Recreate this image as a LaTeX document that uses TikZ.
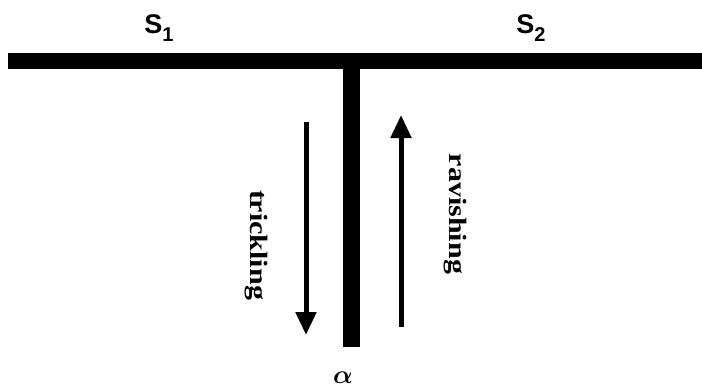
\documentclass[tikz,border=0pt]{standalone}
\usepackage{fontspec}
\setmainfont{Liberation Serif}
\setsansfont{Liberation Sans}
\usetikzlibrary{arrows.meta}

\newcommand{\sublbl}[2]{#1\raisebox{-8pt}{\fontsize{20}{20}\selectfont #2}}

\begin{document}
\begin{tikzpicture}[
    x=1pt, y=-1pt,
    bar/.style={rectangle, fill=black, draw=none, inner sep=0pt},
    flow/.style={-{Triangle[length=23pt, width=20pt]}, line width=5pt},
    word/.style={font=\fontsize{25}{25}\selectfont\bfseries, rotate=-90, xscale=1.2, inner sep=0pt},
    site/.style={font=\fontsize{27}{27}\selectfont\sffamily\bfseries, inner sep=0pt}
]
\useasboundingbox (0,0) rectangle (702,389);

\node[bar, minimum width=694pt, minimum height=16pt] (top) at (355,61) {};
\node[bar, minimum width=17pt, minimum height=278pt] (stem) at (351.5,208) {};

\node[site] (s1) at (159,28) {\sublbl{S}{1}};
\node[site] (s2) at (531,28) {\sublbl{S}{2}};
\node[inner sep=0pt] (alpha) at (343,378) {\scalebox{2.6}{\boldmath$\alpha$}};

% arrow ends
\coordinate (trStart) at (306,122);
\coordinate (trEnd) at (306,335);
\coordinate (rvStart) at (401,327);
\coordinate (rvEnd) at (401,115);

\draw[flow] (trStart) -- (trEnd);
\draw[flow] (rvStart) -- (rvEnd);

\node[word] (trick) at (256,245) {trickling};
\node[word] (ravish) at (455,214) {ravishing};

\end{tikzpicture}
\end{document}
